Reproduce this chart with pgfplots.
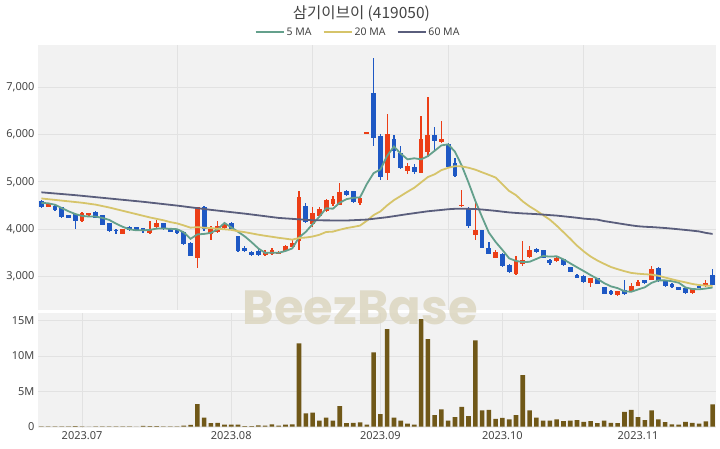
\documentclass[border=0pt]{standalone}
\usepackage{fontspec}
\setmainfont{Noto Sans}
\newfontfamily\cjk{Noto Sans CJK KR}
\newfontfamily\wm{Poppins}
\usepackage{pgfplots}
\usepackage{pgfplotstable}
\pgfplotsset{compat=1.18}
\definecolor{bgc}{RGB}{242,242,242}
\definecolor{gridc}{RGB}{226,226,226}
\definecolor{upc}{RGB}{236,62,22}
\definecolor{dnc}{RGB}{30,88,196}
\definecolor{ma5}{RGB}{100,160,140}
\definecolor{ma20}{RGB}{214,196,106}
\definecolor{ma60}{RGB}{90,94,124}
\definecolor{volc}{RGB}{112,88,24}
\definecolor{txtc}{RGB}{68,68,68}
\definecolor{wmc}{RGB}{220,214,192}

\pgfplotstableread{
i o h l c
1 4480 4560 4470 4550
6 4170 4360 4160 4350
7 4300 4350 4290 4340
12 3910 4010 3900 4000
16 3930 4180 3890 4010
17 4040 4190 4030 4130
23 3400 4480 3190 4470
25 3900 4060 3780 4030
26 3940 4170 3930 4060
27 4020 4140 4000 4110
33 3450 3560 3440 3530
34 3470 3600 3460 3560
35 3480 3550 3470 3530
36 3540 3660 3530 3640
37 3630 3780 3620 3720
38 3750 4800 3570 4690
40 4120 4480 4050 4340
41 4290 4480 4260 4430
42 4380 4640 4370 4610
43 4530 4700 4500 4640
44 4520 4980 4510 4780
47 4560 4680 4520 4660
48 6030 6050 6030 6050
51 5190 6430 5050 6010
54 5230 5390 5160 5330
56 5190 6400 5180 5900
57 5640 6800 5530 5980
59 5840 6290 5820 5900
62 4490 4820 4480 4520
64 3870 4590 3780 3980
67 3400 3560 3390 3530
70 3050 3440 3040 3340
71 3260 3750 3220 3360
72 3420 3650 3400 3560
76 3330 3420 3320 3390
81 2870 2980 2780 2970
85 2610 2700 2600 2690
87 2690 2870 2680 2800
88 2810 2920 2800 2880
90 2940 3220 2930 3160
96 2650 2750 2640 2740
98 2800 2930 2790 2870
}\upT

\pgfplotstableread{
i o h l c
0 4600 4620 4450 4460
2 4500 4520 4390 4400
3 4460 4470 4240 4250
4 4300 4310 4230 4240
5 4320 4330 4010 4170
8 4370 4380 4230 4240
9 4300 4310 4090 4100
10 4130 4140 3950 3960
11 3990 4010 3910 3960
13 4050 4060 3970 3980
14 4040 4050 3980 3990
15 4020 4030 3920 3960
18 4130 4140 3990 4000
19 4020 4030 3940 3950
20 3990 4000 3910 3920
21 3950 3960 3670 3680
22 3720 3730 3430 3440
24 4480 4490 3960 4000
28 4130 4150 3990 4000
29 3850 3860 3530 3540
30 3610 3650 3530 3540
31 3530 3540 3440 3450
32 3550 3600 3440 3450
39 4500 4560 4140 4150
45 4800 4830 4700 4720
46 4800 4810 4560 4570
49 6880 7620 5750 5930
50 5970 6000 5050 5100
52 5910 5980 5500 5650
53 5610 5760 5280 5290
55 5310 5370 5160 5210
58 5980 6160 5640 5860
60 5800 5830 5310 5320
61 5400 5510 5100 5120
63 4450 4460 4020 4060
65 3980 3990 3600 3610
66 3600 3740 3470 3480
68 3480 3490 3210 3220
69 3250 3260 3080 3090
73 3580 3600 3510 3520
74 3560 3570 3390 3400
75 3360 3370 3240 3280
77 3370 3380 3230 3240
78 3200 3210 3090 3100
79 3040 3050 2970 2980
80 3020 3030 2870 2880
82 2970 2980 2840 2850
83 2780 2790 2630 2640
84 2700 2720 2620 2640
86 2710 2920 2610 2640
89 2930 2940 2850 2870
91 3180 3200 2890 2900
92 2930 2940 2790 2800
93 2850 2870 2770 2790
94 2780 2790 2710 2720
95 2760 2770 2640 2650
97 2800 2810 2760 2770
99 3040 3160 2820 2830
}\dnT

\pgfplotstableread{
i m
0 4558
1 4548
2 4518
3 4448
4 4380
5 4322
6 4282
7 4270
8 4268
9 4240
10 4198
11 4120
12 4052
13 4000
14 3978
15 3978
16 3988
17 4014
18 4018
19 4010
20 4002
21 3936
22 3798
23 3892
24 3902
25 3924
26 4000
27 4134
28 4040
29 3948
30 3850
31 3728
32 3596
33 3502
34 3506
35 3504
36 3542
37 3596
38 3828
39 3946
40 4108
41 4266
42 4444
43 4434
44 4560
45 4636
46 4664
47 4674
48 4955
49 5185
50 5261
51 5549
52 5747
53 5596
54 5476
55 5498
56 5476
57 5542
58 5656
59 5770
60 5792
61 5636
62 5344
63 4984
64 4600
65 4258
66 3930
67 3732
68 3564
69 3386
70 3332
71 3308
72 3314
73 3374
74 3436
75 3424
76 3430
77 3366
78 3282
79 3198
80 3118
81 3034
82 2956
83 2864
84 2796
85 2758
86 2692
87 2682
88 2730
89 2776
90 2870
91 2922
92 2922
93 2904
94 2874
95 2772
96 2740
97 2734
98 2750
99 2772
}\maA

\pgfplotstableread{
i m
0 4650
2 4620
4 4590
6 4560
8 4520
10 4460
12 4390
14 4320
16 4250
18 4190
19 4152
20 4125
21 4082
22 4034
23 4045
24 4033
25 4026
26 4011
27 4000
28 3988
29 3960
30 3939
31 3913
32 3886
33 3863
34 3842
35 3820
36 3802
37 3781
38 3816
39 3826
40 3847
41 3884
42 3943
43 3951
44 3990
45 4025
46 4050
47 4078
48 4180
49 4299
50 4377
51 4505
52 4615
53 4703
54 4792
55 4876
56 4989
57 5102
58 5160
59 5248
60 5297
61 5331
62 5327
63 5298
64 5258
65 5202
66 5148
67 5091
68 4950
69 4808
70 4720
71 4588
72 4483
73 4395
74 4298
75 4202
76 4076
77 3939
78 3801
79 3655
80 3533
81 3426
82 3342
83 3271
84 3204
85 3158
86 3116
87 3080
88 3063
89 3052
90 3043
91 3020
92 2982
93 2945
94 2911
95 2880
96 2847
97 2824
98 2812
99 2805
}\maB

\pgfplotstableread{
i m
0 4780
5 4720
10 4650
15 4580
20 4500
25 4410
30 4330
35 4240
40 4190
45 4185
48 4205
51 4255
54 4320
57 4380
59 4408
60 4423
61 4432
62 4434
63 4431
64 4427
65 4417
66 4403
67 4389
68 4372
69 4356
70 4345
71 4335
72 4328
73 4320
74 4310
75 4299
76 4289
77 4274
78 4259
79 4243
80 4225
81 4214
82 4204
83 4173
84 4151
85 4128
86 4105
87 4083
88 4064
89 4053
90 4047
91 4037
92 4027
93 4014
94 4000
95 3986
96 3971
97 3955
98 3924
99 3902
}\maC

\pgfplotstableread{
i v
0 0.05
1 0.04
2 0.05
3 0.06
4 0.04
5 0.07
6 0.05
7 0.03
8 0.04
9 0.05
10 0.06
11 0.04
12 0.05
13 0.04
14 0.03
15 0.12
16 0.10
17 0.08
18 0.05
19 0.04
20 0.06
21 0.15
22 0.25
23 3.2
24 1.3
25 0.5
26 0.55
27 0.3
28 0.3
29 0.3
30 0.1
31 0.1
32 0.2
33 0.15
34 0.35
35 0.15
36 0.3
37 0.35
38 11.8
39 1.9
40 2.0
41 0.85
42 1.3
43 0.85
44 2.9
45 0.5
46 0.55
47 0.6
48 0.3
49 10.5
50 1.8
51 13.8
52 1.3
53 0.85
54 0.45
55 0.3
56 15.2
57 12.4
58 1.65
59 2.45
60 0.85
61 1.35
62 2.8
63 1.5
64 12.2
65 2.3
66 2.4
67 1.1
68 1.25
69 1.05
70 1.65
71 7.3
72 2.3
73 1.3
74 0.85
75 0.85
76 1.05
77 0.8
78 0.85
79 0.95
80 0.7
81 0.8
82 0.5
83 0.85
84 0.55
85 0.5
86 2.1
87 2.4
88 1.35
89 0.95
90 2.3
91 1.05
92 0.65
93 0.35
94 0.3
95 0.7
96 0.55
97 0.45
98 0.75
99 3.15
}\volT

\pgfplotsset{
  panel/.style={
    scale only axis, width=678pt,
    xmin=-0.5, xmax=99.5,
    axis background/.style={fill=bgc},
    axis line style={draw=none},
    tick style={draw=none},
    grid=major,
    major grid style={gridc, line width=0.8pt},
    tick label style={font=\fontsize{11}{13}\selectfont, text=txtc},
  },
}

\begin{document}
\begin{tikzpicture}
\path[use as bounding box] (0pt,0pt) rectangle (720pt,448pt);

% price panel
\begin{axis}[panel,
  at={(38pt,138pt)}, anchor=south west, height=265pt,
  ymin=2297, ymax=7888,
  xtick={20,40,60,80}, xticklabels={},
  ytick={3000,4000,5000,6000,7000},
  yticklabels={{3,000},{4,000},{5,000},{6,000},{7,000}},
  title={\cjk 삼기이브이 (419050)},
  title style={at={(axis description cs:0.477,1)}, anchor=center, yshift=25pt,
    font=\cjk\fontsize{15.5}{17}\selectfont, text=txtc},
  legend columns=3,
  legend style={at={(axis description cs:0.472,1)}, anchor=center, yshift=13pt,
    draw=none, fill=none, font=\fontsize{10.5}{12}\selectfont, text=txtc,
    /tikz/every even column/.append style={column sep=9pt}},
  legend image code/.code={\draw[#1, line width=2pt] (0pt,0pt) -- (28pt,0pt);},
]
% wicks
\addplot[forget plot, draw=none, error bars/.cd, y dir=both, y explicit, error mark=none,
  error bar style={draw=upc, line width=1.3pt}]
  table[x=i, y expr=(\thisrow{h}+\thisrow{l})/2, y error expr=(\thisrow{h}-\thisrow{l})/2] {\upT};
\addplot[forget plot, draw=none, error bars/.cd, y dir=both, y explicit, error mark=none,
  error bar style={draw=dnc, line width=1.3pt}]
  table[x=i, y expr=(\thisrow{h}+\thisrow{l})/2, y error expr=(\thisrow{h}-\thisrow{l})/2] {\dnT};
% bodies
\addplot[forget plot, draw=none, error bars/.cd, y dir=both, y explicit, error mark=none,
  error bar style={draw=upc, line width=4.8pt}]
  table[x=i, y expr=(\thisrow{o}+\thisrow{c})/2, y error expr=(\thisrow{c}-\thisrow{o})/2] {\upT};
\addplot[forget plot, draw=none, error bars/.cd, y dir=both, y explicit, error mark=none,
  error bar style={draw=dnc, line width=4.8pt}]
  table[x=i, y expr=(\thisrow{o}+\thisrow{c})/2, y error expr=(\thisrow{o}-\thisrow{c})/2] {\dnT};
% moving averages
\addplot[ma5, line width=1.8pt, mark=none] table[x=i, y=m] {\maA};
\addlegendentry{5 MA}
\addplot[ma20, line width=1.8pt, mark=none] table[x=i, y=m] {\maB};
\addlegendentry{20 MA}
\addplot[ma60, line width=1.8pt, mark=none] table[x=i, y=m] {\maC};
\addlegendentry{60 MA}
\end{axis}

% volume panel
\begin{axis}[panel,
  at={(38pt,20pt)}, anchor=south west, height=115pt,
  ymin=-0.18, ymax=16.08, clip=false,
  xtick={6,28,50,68,88},
  xticklabels={2023.07,2023.08,2023.09,2023.10,2023.11},
  ytick={0,5,10,15},
  yticklabels={0,5M,10M,15M},
]
\node[text=wmc, font=\wm\bfseries\fontsize{48}{50}\selectfont, opacity=0.85]
  at (axis cs:47,16.8) {BeezBase};
\addplot[ybar, bar width=4.6pt, fill=volc, draw=none] table[x=i, y=v] {\volT};
\end{axis}
\end{tikzpicture}
\end{document}
